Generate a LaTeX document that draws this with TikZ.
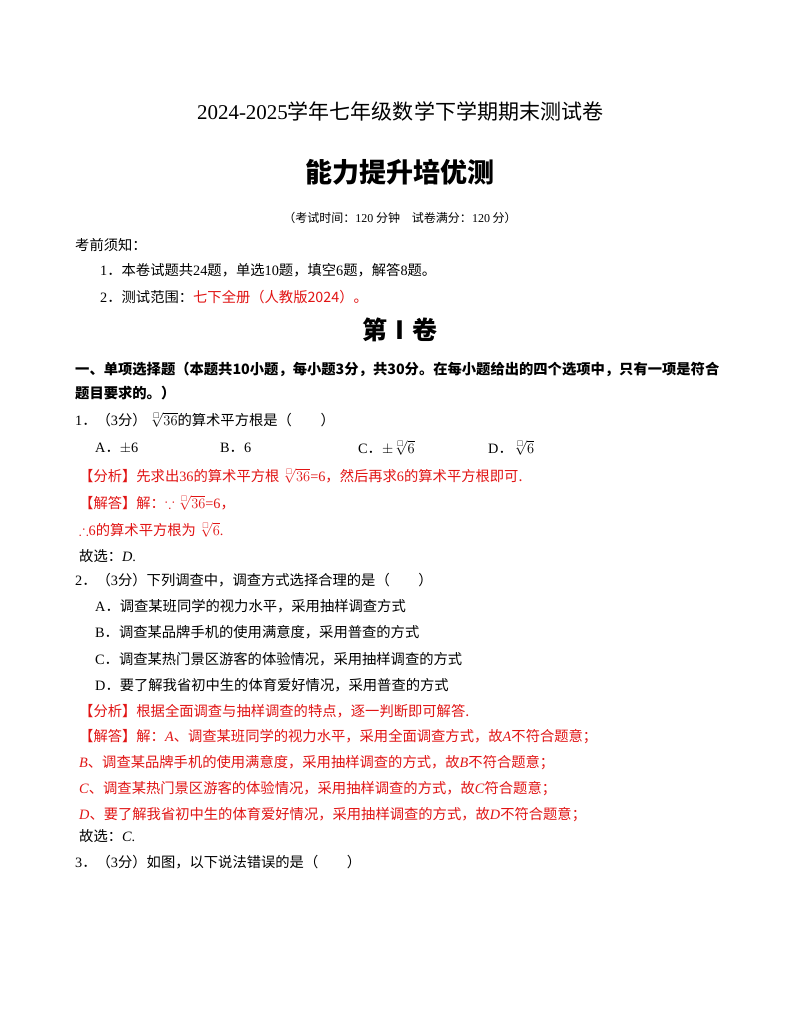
\documentclass[tikz,border=0pt]{standalone}
\usepackage{fontspec}
\usepackage{amssymb}
\setmainfont{Liberation Serif}
\newfontfamily\cjk{Noto Sans CJK SC}
\newcommand{\rt}[1]{$\sqrt[\scriptscriptstyle\square]{#1}$}
\newcommand{\dd}{{\cjk ．}}
\definecolor{ansred}{RGB}{225,20,20}
\begin{document}
\begin{tikzpicture}[x=1pt,y=-1pt,
  t/.style={anchor=west,inner sep=0pt,font=\fontsize{14.3}{16}\selectfont},
  r/.style={t,text=ansred}]
\useasboundingbox (0,0) rectangle (800,1035);
\fill[white] (0,0) rectangle (800,1035);
\node[inner sep=0] (title) at (400,111) {\fontsize{21}{24}\selectfont 2024-2025{\cjk 学年七年级数学下学期期末测试卷}};
\node[inner sep=0] (sub) at (400,172) {\fontsize{27}{30}\selectfont\cjk\bfseries 能力提升培优测};
\node[inner sep=0] (time) at (400,218) {\fontsize{12}{14}\selectfont\cjk （考试时间：{\rmfamily 120} 分钟\quad 试卷满分：{\rmfamily 120} 分）};
\node[t] (n0) at (75,245) {\cjk 考前须知：};
\node[t] (n1) at (100,270) {1\dd{\cjk 本卷试题共}24{\cjk 题，单选}10{\cjk 题，填空}6{\cjk 题，解答}8{\cjk 题。}};
\node[t] (n2) at (100,297) {2\dd{\cjk 测试范围：}{\color{ansred}\cjk 七下全册（人教版2024）。}};
\node[inner sep=0] (juan) at (400,330) {\fontsize{25}{28}\selectfont\cjk\bfseries 第Ⅰ卷};
\node[t] (s1) at (75,369) {\cjk\bfseries 一、单项选择题（本题共10小题，每小题3分，共30分。在每小题给出的四个选项中，只有一项是符合};
\node[t] (s2) at (75,393) {\cjk\bfseries 题目要求的。）};
\node[t] (q1) at (75,420) {1\dd{\cjk （}3{\cjk 分）}\,\rt{36}{\cjk 的算术平方根是（\qquad）}};
\node[t] (oa) at (95,448) {A\dd$\pm$6};
\node[t] (ob) at (220,448) {B\dd 6};
\node[t] (oc) at (358,448) {C\dd$\pm$\rt{6}};
\node[t] (od) at (488,448) {D\dd\rt{6}};
\node[r] (a1) at (79,476) {\cjk 【分析】先求出{\rmfamily 36}的算术平方根\,{\rmfamily\rt{36}=6}，然后再求{\rmfamily 6}的算术平方根即可.};
\node[r] (a2) at (79,503) {{\cjk 【解答】解：}$\because$\,\rt{36}=6{\cjk ，}};
\node[r] (a3) at (79,530) {$\therefore$6{\cjk 的算术平方根为}\,\rt{6}.};
\node[t] (a4) at (79,556) {{\cjk 故选：}\textit{D}.};
\node[t] (q2) at (75,580) {2\dd{\cjk （}3{\cjk 分）下列调查中，调查方式选择合理的是（\qquad）}};
\node[t] (pa) at (95,606) {A\dd{\cjk 调查某班同学的视力水平，采用抽样调查方式}};
\node[t] (pb) at (95,632) {B\dd{\cjk 调查某品牌手机的使用满意度，采用普查的方式}};
\node[t] (pc) at (95,659) {C\dd{\cjk 调查某热门景区游客的体验情况，采用抽样调查的方式}};
\node[t] (pd) at (95,685) {D\dd{\cjk 要了解我省初中生的体育爱好情况，采用普查的方式}};
\node[r] (b1) at (79,711) {\cjk 【分析】根据全面调查与抽样调查的特点，逐一判断即可解答.};
\node[r] (b2) at (79,737) {{\cjk 【解答】解：}\textit{A}{\cjk 、调查某班同学的视力水平，采用全面调查方式，故}\textit{A}{\cjk 不符合题意；}};
\node[r] (b3) at (79,763) {\textit{B}{\cjk 、调查某品牌手机的使用满意度，采用抽样调查的方式，故}\textit{B}{\cjk 不符合题意；}};
\node[r] (b4) at (79,789) {\textit{C}{\cjk 、调查某热门景区游客的体验情况，采用抽样调查的方式，故}\textit{C}{\cjk 符合题意；}};
\node[r] (b5) at (79,815) {\textit{D}{\cjk 、要了解我省初中生的体育爱好情况，采用抽样调查的方式，故}\textit{D}{\cjk 不符合题意；}};
\node[t] (b6) at (79,836) {{\cjk 故选：}\textit{C}.};
\node[t] (q3) at (75,862) {3\dd{\cjk （}3{\cjk 分）如图，以下说法错误的是（\qquad）}};
\end{tikzpicture}
\end{document}
